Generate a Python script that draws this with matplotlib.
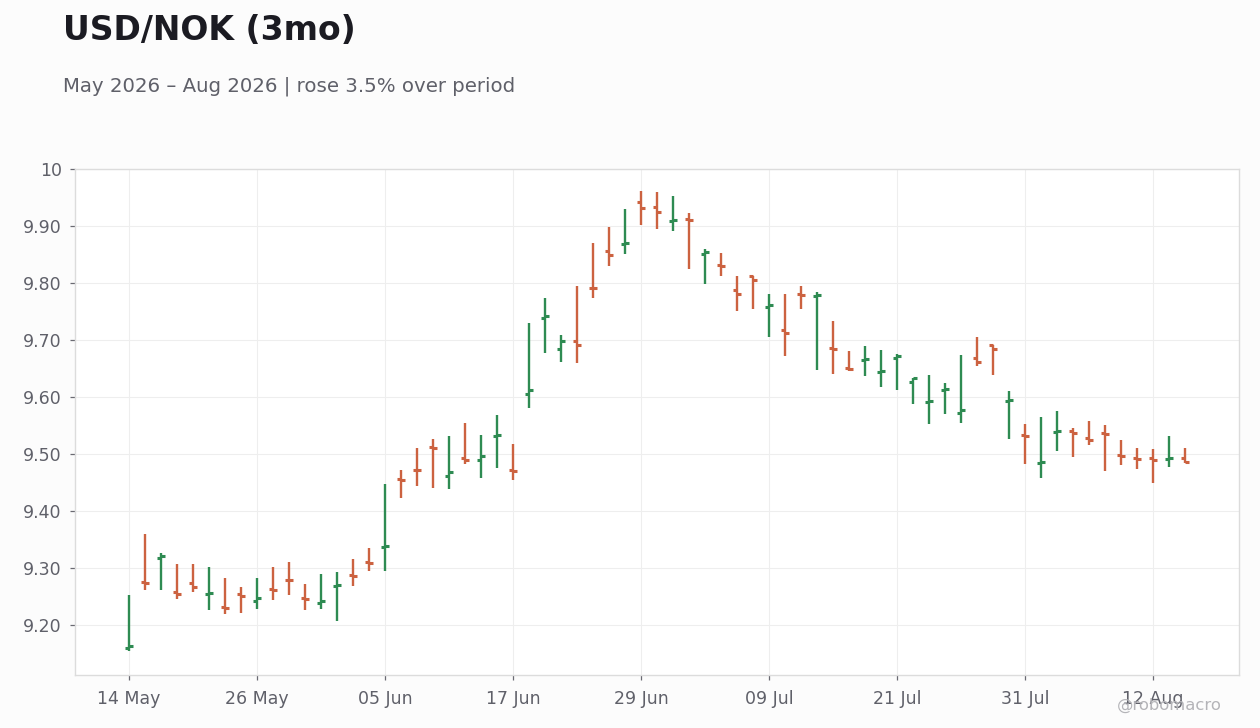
import matplotlib
matplotlib.use("Agg")
import matplotlib.pyplot as plt
import numpy as np
import pandas as pd

# ---- data (USD/NOK daily OHLC, business days from 14 May 2026) ----
start_date = "2026-05-14"
opens = [9.160, 9.276, 9.317, 9.258, 9.274, 9.254, 9.231, 9.254, 9.242, 9.263,
         9.279, 9.247, 9.239, 9.268, 9.287, 9.311, 9.336, 9.456, 9.472, 9.513,
         9.462, 9.492, 9.490, 9.532, 9.471, 9.606, 9.738, 9.684, 9.698, 9.792,
         9.856, 9.868, 9.942, 9.933, 9.909, 9.912, 9.851, 9.831, 9.787, 9.812,
         9.758, 9.717, 9.781, 9.777, 9.686, 9.651, 9.664, 9.644, 9.668, 9.626,
         9.591, 9.612, 9.571, 9.668, 9.691, 9.592, 9.533, 9.484, 9.538, 9.540,
         9.528, 9.536, 9.498, 9.492, 9.492, 9.491, 9.492]
highs = [9.253, 9.359, 9.326, 9.306, 9.306, 9.301, 9.283, 9.267, 9.283, 9.301,
         9.311, 9.271, 9.289, 9.292, 9.316, 9.335, 9.448, 9.472, 9.511, 9.527,
         9.532, 9.555, 9.534, 9.569, 9.518, 9.729, 9.774, 9.708, 9.794, 9.871,
         9.899, 9.929, 9.962, 9.960, 9.953, 9.923, 9.860, 9.853, 9.813, 9.813,
         9.780, 9.780, 9.795, 9.785, 9.734, 9.681, 9.690, 9.683, 9.675, 9.634,
         9.639, 9.625, 9.673, 9.706, 9.692, 9.611, 9.553, 9.564, 9.576, 9.546,
         9.558, 9.550, 9.525, 9.511, 9.508, 9.531, 9.511]
lows = [9.154, 9.261, 9.261, 9.245, 9.257, 9.226, 9.219, 9.221, 9.228, 9.243,
        9.252, 9.226, 9.228, 9.207, 9.269, 9.294, 9.295, 9.422, 9.443, 9.440,
        9.438, 9.482, 9.457, 9.475, 9.455, 9.580, 9.677, 9.661, 9.659, 9.773,
        9.829, 9.850, 9.901, 9.894, 9.891, 9.824, 9.798, 9.812, 9.750, 9.754,
        9.706, 9.671, 9.754, 9.647, 9.641, 9.645, 9.636, 9.617, 9.613, 9.587,
        9.552, 9.570, 9.554, 9.654, 9.638, 9.526, 9.482, 9.457, 9.505, 9.494,
        9.515, 9.470, 9.480, 9.473, 9.449, 9.477, 9.484]
closes = [9.163, 9.273, 9.320, 9.254, 9.267, 9.256, 9.229, 9.250, 9.247, 9.261,
          9.278, 9.245, 9.241, 9.270, 9.285, 9.309, 9.338, 9.455, 9.471, 9.511,
          9.468, 9.489, 9.496, 9.534, 9.470, 9.612, 9.742, 9.699, 9.692, 9.791,
          9.849, 9.870, 9.932, 9.925, 9.911, 9.910, 9.854, 9.829, 9.781, 9.806,
          9.761, 9.713, 9.779, 9.779, 9.684, 9.649, 9.666, 9.646, 9.671, 9.633,
          9.592, 9.614, 9.577, 9.661, 9.684, 9.594, 9.531, 9.486, 9.540, 9.536,
          9.524, 9.535, 9.497, 9.491, 9.489, 9.493, 9.485]

y_ticks = [9.2, 9.3, 9.4, 9.5, 9.6, 9.7, 9.8, 9.9, 10.0]
y_tick_labels = ["9.20", "9.30", "9.40", "9.50", "9.60", "9.70", "9.80", "9.90", "10"]
x_tick_step = 8

title = "USD/NOK (3mo)"
subtitle = "May 2026 \u2013 Aug 2026 | rose 3.5% over period"
watermark = "@robomacro"

# ---- styling ----
UP = "#2e8b52"
DOWN = "#cc6240"
TEXT_DARK = "#1b1b22"
TEXT_GRAY = "#5f6069"

plt.rcParams["font.family"] = ["DejaVu Sans"]

dates = pd.bdate_range(start_date, periods=len(opens))
x = np.arange(len(opens))
o = np.array(opens); h = np.array(highs); l = np.array(lows); c = np.array(closes)
colors = [UP if cc >= oo else DOWN for oo, cc in zip(o, c)]

fig = plt.figure(figsize=(12.6, 7.28), dpi=100)
fig.patch.set_facecolor("#fcfcfc")
ax = fig.add_axes([75 / 1260, 53 / 728, (1239 - 75) / 1260, (675 - 169) / 728])
ax.set_facecolor("white")

tw = 0.24
ax.vlines(x, l, h, colors=colors, linewidth=1.7, zorder=3)
ax.hlines(o, x - tw, x, colors=colors, linewidth=2.2, zorder=3)
ax.hlines(c, x, x + tw, colors=colors, linewidth=2.2, zorder=3)

ax.set_xlim(-3.38, len(opens) - 1 + 3.38)
ax.set_ylim(9.112, 10.0)

xt = x[::x_tick_step]
ax.set_xticks(xt)
ax.set_xticklabels([dates[i].strftime("%d %b") for i in xt])
ax.set_yticks(y_ticks)
ax.set_yticklabels(y_tick_labels)

ax.grid(True, color="#eeeeee", linewidth=0.8, zorder=0)
ax.set_axisbelow(True)
for s in ax.spines.values():
    s.set_color("#dcdcdc")
    s.set_linewidth(1.0)
ax.tick_params(axis="both", colors="#6a6a72", labelcolor=TEXT_GRAY,
               labelsize=12.5, length=3.5, width=0.9)
ax.tick_params(axis="y", pad=6)
ax.tick_params(axis="x", pad=7)

fig.text(63 / 1260, 1 - 30 / 728, title, fontsize=23.8, fontweight="bold",
         color=TEXT_DARK, ha="left", va="center")
fig.text(63 / 1260, 1 - 86 / 728, subtitle, fontsize=14.2, color=TEXT_GRAY,
         ha="left", va="center")
fig.text(1222 / 1260, 1 - 705 / 728, watermark, fontsize=11.8, color="#b4b4b8",
         ha="right", va="center")

fig.savefig("out.png", dpi=100, facecolor=fig.get_facecolor())
